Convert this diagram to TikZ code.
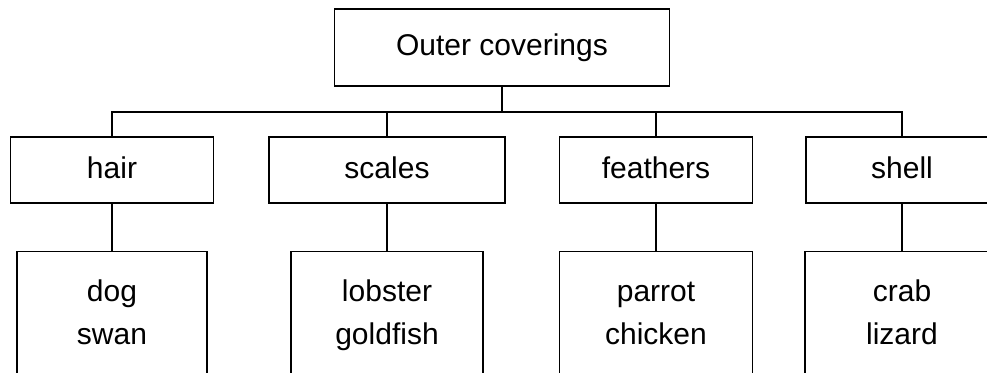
\documentclass[tikz,border=0pt]{standalone}
\usepackage{fontspec}
\setmainfont{Liberation Sans}
\begin{document}
\begin{tikzpicture}[x=1pt,y=-1pt,
  box/.style={draw,line width=1.4pt,inner sep=0pt,align=center,font=\fontsize{30}{43}\selectfont},
  conn/.style={line width=1.4pt}]
\useasboundingbox (0,0) rectangle (987,372);
\clip (0,0) rectangle (987,372);
\node[box,minimum width=335pt,minimum height=77pt] (top) at (502,47.5) {Outer coverings};
\node[box,minimum width=203pt,minimum height=66pt] (hair) at (112,170) {\strut hair};
\node[box,minimum width=236pt,minimum height=66pt] (scales) at (387,170) {\strut scales};
\node[box,minimum width=193pt,minimum height=66pt] (feathers) at (656,170) {\strut feathers};
\node[box,minimum width=192pt,minimum height=66pt] (shell) at (902,170) {\strut shell};
\node[box,minimum width=190pt,minimum height=126pt,anchor=north] (dog) at (112,251) {\strut dog\\\strut swan};
\node[box,minimum width=192pt,minimum height=126pt,anchor=north] (lobster) at (387,251) {\strut lobster\\\strut goldfish};
\node[box,minimum width=193pt,minimum height=126pt,anchor=north] (parrot) at (656,251) {\strut parrot\\\strut chicken};
\node[box,minimum width=194pt,minimum height=126pt,anchor=north] (crab) at (902,251) {\strut crab\\\strut lizard};
\coordinate (bar) at (502,112);
\draw[conn] (top.south) -- (bar);
\draw[conn] (hair.north) |- (bar) -| (shell.north);
\draw[conn] (scales.north) -- (scales.north |- bar);
\draw[conn] (feathers.north) -- (feathers.north |- bar);
\draw[conn] (hair.south) -- (dog.north);
\draw[conn] (scales.south) -- (lobster.north);
\draw[conn] (feathers.south) -- (parrot.north);
\draw[conn] (shell.south) -- (crab.north);
\end{tikzpicture}
\end{document}
